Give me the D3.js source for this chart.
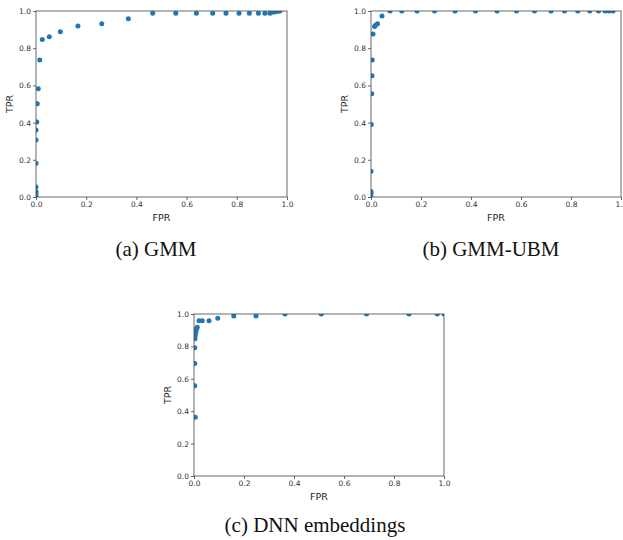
<!DOCTYPE html>
<html>
<head>
<meta charset="utf-8">
<script src="https://cdn.jsdelivr.net/npm/d3@7"></script>
<style>
    body { margin: 0; background: #fff; }
    .tick text { font-family: "DejaVu Sans", sans-serif; font-size: 7.5px; fill: #333; }
    .axis-label { font-family: "DejaVu Sans", sans-serif; font-size: 9.5px; fill: #222; }
    .caption { font-family: "Liberation Serif", "Times New Roman", serif; font-size: 21px; fill: #111; }
</style>
</head>
<body>
<div id="chart"></div>
<script>
// ROC points (FPR, TPR)
const gmmFpr = [0, 0, 0, 0, 0, 0, 0, 0, 0.003, 0.005, 0.009, 0.015, 0.025, 0.053, 0.097, 0.167, 0.262, 0.368,
    0.465, 0.557, 0.639, 0.704, 0.757, 0.809, 0.85, 0.886, 0.912, 0.932, 0.945, 0.955, 0.965, 0.972];
const gmmTpr = [0.005, 0.018, 0.03, 0.054, 0.181, 0.306, 0.36, 0.403, 0.403, 0.502, 0.582, 0.737, 0.847, 0.862,
    0.889, 0.919, 0.932, 0.959, 0.988, 0.988, 0.988, 0.988, 0.988, 0.988, 0.988, 0.988, 0.988, 0.988, 0.993,
    0.996, 0.998, 1.0];

const ubmFpr = [0, 0, 0, 0, 0.001, 0.003, 0.004, 0.005, 0.008, 0.014, 0.018, 0.026, 0.044, 0.076, 0.123, 0.184,
    0.254, 0.336, 0.418, 0.504, 0.582, 0.654, 0.72, 0.774, 0.827, 0.875, 0.91, 0.936, 0.952, 0.968];
const ubmTpr = [0, 0.02, 0.03, 0.138, 0.39, 0.555, 0.652, 0.737, 0.876, 0.917, 0.923, 0.932, 0.973, 1, 1, 1,
    1, 1, 1, 1, 1, 1, 1, 1, 1, 1, 1, 1, 1, 1];

const dnnFpr = [0.005, 0.003, 0.003, 0.003, 0.004, 0.005, 0.007, 0.008, 0.009, 0.013, 0.02, 0.033, 0.06, 0.095,
    0.159, 0.248, 0.364, 0.509, 0.69, 0.86, 0.973, 1.0];
const dnnTpr = [0.363, 0.557, 0.695, 0.792, 0.847, 0.866, 0.882, 0.897, 0.907, 0.918, 0.959, 0.959, 0.959, 0.973,
    0.988, 0.988, 1, 1, 1, 1, 1, 1];

const tickValues = [0, 0.2, 0.4, 0.6, 0.8, 1.0];
const captions = ["(a) GMM", "(b) GMM-UBM", "(c) DNN embeddings"];

const svg = d3.select("#chart")
    .append("svg")
    .attr("width", 623)
    .attr("height", 540);

function drawPanel(id, fpr, tpr, box, caption, captionX, captionY) {
    const x = d3.scaleLinear().domain([0, 1]).range([box.left, box.right]);
    const y = d3.scaleLinear().domain([0, 1]).range([box.bottom, box.top]);
    const g = svg.append("g");

    // clip points to the axes area, like matplotlib does
    svg.append("clipPath")
        .attr("id", "clip-" + id)
        .append("rect")
        .attr("x", box.left)
        .attr("y", box.top)
        .attr("width", box.right - box.left)
        .attr("height", box.bottom - box.top);

    g.append("g")
        .attr("clip-path", "url(#clip-" + id + ")")
        .selectAll("circle")
        .data(fpr.map((f, i) => [f, tpr[i]]))
        .join("circle")
        .attr("cx", (d) => x(d[0]))
        .attr("cy", (d) => y(d[1]))
        .attr("r", 2.5)
        .attr("fill", "#1f77b4");

    const xAxis = g.append("g")
        .attr("transform", `translate(0,${box.bottom})`)
        .call(d3.axisBottom(x).tickValues(tickValues).tickFormat(d3.format(".1f")).tickSize(3).tickPadding(2));
    const yAxis = g.append("g")
        .attr("transform", `translate(${box.left},0)`)
        .call(d3.axisLeft(y).tickValues(tickValues).tickFormat(d3.format(".1f")).tickSize(3).tickPadding(2));
    [xAxis, yAxis].forEach((a) => {
        a.select(".domain").remove();
        a.selectAll(".tick line").attr("stroke", "#444").attr("stroke-width", 0.8);
    });

    // spines
    g.append("rect")
        .attr("x", box.left)
        .attr("y", box.top)
        .attr("width", box.right - box.left)
        .attr("height", box.bottom - box.top)
        .attr("fill", "none")
        .attr("stroke", "#444")
        .attr("stroke-width", 0.8);

    g.append("text")
        .attr("class", "axis-label")
        .attr("x", (box.left + box.right) / 2)
        .attr("y", box.bottom + 24)
        .attr("text-anchor", "middle")
        .text("FPR");

    g.append("text")
        .attr("class", "axis-label")
        .attr("transform", `translate(${box.left - 20},${(box.top + box.bottom) / 2}) rotate(-90)`)
        .attr("text-anchor", "middle")
        .attr("dy", "-0.3em")
        .text("TPR");

    g.append("text")
        .attr("class", "caption")
        .attr("x", captionX)
        .attr("y", captionY)
        .attr("text-anchor", "middle")
        .text(caption);
}

drawPanel("a", gmmFpr, gmmTpr, { left: 36, right: 287, top: 11, bottom: 197 }, captions[0], 156, 256);
drawPanel("b", ubmFpr, ubmTpr, { left: 371, right: 621, top: 11, bottom: 197 }, captions[1], 491, 256);
drawPanel("c", dnnFpr, dnnTpr, { left: 194, right: 444, top: 314, bottom: 476 }, captions[2], 315, 532);
</script>
</body>
</html>
